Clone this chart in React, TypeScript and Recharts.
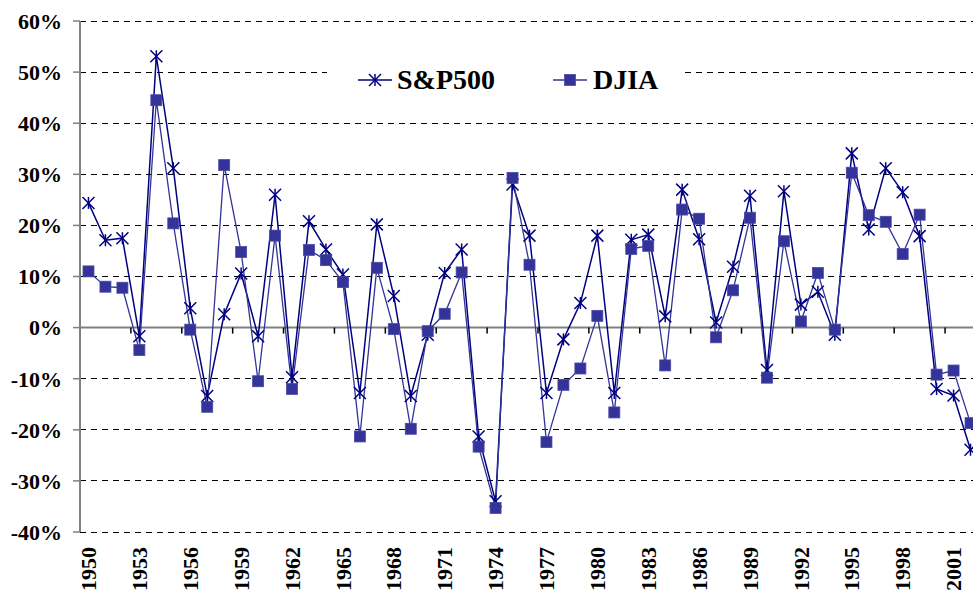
import React from 'react'
import { LineChart, Line, XAxis, YAxis, CartesianGrid, ReferenceLine, Legend } from 'recharts'

const years = [
  '1950', '1951', '1952', '1953', '1954', '1955', '1956', '1957', '1958', '1959',
  '1960', '1961', '1962', '1963', '1964', '1965', '1966', '1967', '1968', '1969',
  '1970', '1971', '1972', '1973', '1974', '1975', '1976', '1977', '1978', '1979',
  '1980', '1981', '1982', '1983', '1984', '1985', '1986', '1987', '1988', '1989',
  '1990', '1991', '1992', '1993', '1994', '1995', '1996', '1997', '1998', '1999',
  '2000', '2001', '2002',
]

// annual returns, %
const sp500 = [
  24.4, 17.1, 17.5, -1.7, 53.1, 31.2, 3.8, -13.4, 2.6, 10.6,
  -1.7, 26.0, -9.7, 20.8, 15.3, 10.4, -12.8, 20.2, 6.2, -13.4,
  -1.4, 10.7, 15.3, -21.3, -34.0, 28.0, 18.0, -12.8, -2.3, 4.8,
  18.0, -12.8, 17.2, 18.2, 2.2, 27.0, 17.3, 1.0, 11.9, 25.8,
  -8.3, 26.7, 4.5, 7.0, -1.4, 34.1, 19.2, 31.2, 26.5, 17.9,
  -12.0, -13.3, -23.9,
]

const djia = [
  11.0, 8.0, 7.8, -4.4, 44.5, 20.4, -0.4, -15.5, 31.8, 14.8,
  -10.5, 18.0, -12.0, 15.2, 13.2, 8.9, -21.3, 11.7, -0.3, -19.8,
  -0.7, 2.7, 10.8, -23.3, -35.3, 29.3, 12.3, -22.4, -11.2, -8.0,
  2.3, -16.6, 15.4, 16.0, -7.4, 23.1, 21.3, -1.9, 7.3, 21.5,
  -9.8, 16.9, 1.2, 10.7, -0.4, 30.3, 22.0, 20.7, 14.4, 22.1,
  -9.2, -8.4, -18.7,
]

const yTicks = [-40, -30, -20, -10, 0, 10, 20, 30, 40, 50, 60]

const data = years.map((year, i) => ({ year, sp500: sp500[i], djia: djia[i] }))

const FONT = "'Liberation Serif', 'Times New Roman', serif"
const SP_COLOR = '#000080'
const DJ_COLOR = '#333399'

const CHART_W = 1000
const AXIS_W = 80
const RIGHT = 21
const PLOT_W = CHART_W - AXIS_W - RIGHT
const BAND = PLOT_W / years.length

function Star({ cx, cy, r = 6 }: { cx: number; cy: number; r?: number }) {
  return (
    <g stroke={SP_COLOR} strokeWidth={1.5} fill="none">
      <line x1={cx - r} y1={cy - r} x2={cx + r} y2={cy + r} />
      <line x1={cx - r} y1={cy + r} x2={cx + r} y2={cy - r} />
      <line x1={cx} y1={cy - r} x2={cx} y2={cy + r} />
    </g>
  )
}

function Square({ cx, cy, s = 11 }: { cx: number; cy: number; s?: number }) {
  return <rect x={cx - s / 2} y={cy - s / 2} width={s} height={s} fill={DJ_COLOR} stroke="#4a4aa8" strokeWidth={0.8} />
}

function YearTick(props: any) {
  const { x, y, payload } = props
  return (
    <text
      x={x}
      y={y}
      dy="0.35em"
      transform={`rotate(-90 ${x} ${y})`}
      textAnchor="end"
      style={{ fontFamily: FONT, fontWeight: 'bold', fontSize: 22 }}
      fill="#000"
    >
      {payload.value}
    </text>
  )
}

// zero line with Excel-style ticks between every third category
function ZeroLine(props: any) {
  const { x1, y1, x2, y2 } = props
  const marks = []
  for (let k = 0; k * 3 < years.length; k++) {
    const x = x1 + k * 3 * BAND
    marks.push(<line key={k} x1={x} y1={y1} x2={x} y2={y1 + 6} stroke="#000" strokeWidth={1.5} />)
  }
  return (
    <g>
      <line x1={x1} y1={y1} x2={x2} y2={y2} stroke="#808080" strokeWidth={2} />
      {marks}
    </g>
  )
}

function LegendBox() {
  const text = { position: 'absolute' as const, top: 0, lineHeight: '70px', fontFamily: FONT, fontWeight: 'bold' as const, fontSize: 28, color: '#000' }
  return (
    <div style={{ position: 'relative', width: 358, height: 70, background: '#fff' }}>
      <svg width={34} height={20} style={{ position: 'absolute', left: 31, top: 25 }}>
        <line x1={0} y1={10} x2={34} y2={10} stroke={SP_COLOR} strokeWidth={1.5} />
        <Star cx={17} cy={10} />
      </svg>
      <span style={{ ...text, left: 70 }}>S&amp;P500</span>
      <svg width={34} height={20} style={{ position: 'absolute', left: 226, top: 25 }}>
        <line x1={0} y1={10} x2={34} y2={10} stroke={DJ_COLOR} strokeWidth={1.5} />
        <Square cx={17} cy={10} />
      </svg>
      <span style={{ ...text, left: 266 }}>DJIA</span>
    </div>
  )
}

export default function App() {
  return (
    <div style={{ position: 'absolute', left: 0, top: 0, width: 973, height: 593, overflow: 'hidden', background: '#fff', fontFamily: FONT }}>
      <LineChart width={CHART_W} height={593} data={data} margin={{ top: 21, right: RIGHT, left: 0, bottom: 0 }}>
        <CartesianGrid vertical={false} stroke="#000" strokeDasharray="6 5" shapeRendering="crispEdges" />
        <XAxis
          dataKey="year"
          height={61}
          interval={2}
          axisLine={false}
          tickLine={false}
          tickSize={0}
          tickMargin={15}
          padding={{ left: BAND / 2, right: BAND / 2 }}
          tick={<YearTick />}
        />
        <YAxis
          width={AXIS_W}
          domain={[-40, 60]}
          ticks={yTicks}
          interval={0}
          tickFormatter={(v: number) => `${v}%`}
          axisLine={{ stroke: '#808080', strokeWidth: 2 }}
          tickLine={{ stroke: '#808080', strokeWidth: 1.5 }}
          tickSize={7}
          tickMargin={11}
          tick={{ fontFamily: FONT, fontWeight: 'bold', fontSize: 22, fill: '#000', style: { fontFamily: FONT } }}
        />
        <ReferenceLine y={0} shape={<ZeroLine />} />
        <Legend
          layout="horizontal"
          verticalAlign="middle"
          align="center"
          content={<LegendBox />}
          wrapperStyle={{ left: 327, top: 45, width: 358, height: 70 }}
        />
        <Line
          dataKey="sp500"
          stroke={SP_COLOR}
          strokeWidth={1.5}
          isAnimationActive={false}
          dot={(p: any) => <Star key={p.index} cx={p.cx} cy={p.cy} />}
        />
        <Line
          dataKey="djia"
          stroke={DJ_COLOR}
          strokeWidth={1.3}
          isAnimationActive={false}
          dot={(p: any) => <Square key={p.index} cx={p.cx} cy={p.cy} />}
        />
      </LineChart>
    </div>
  )
}
